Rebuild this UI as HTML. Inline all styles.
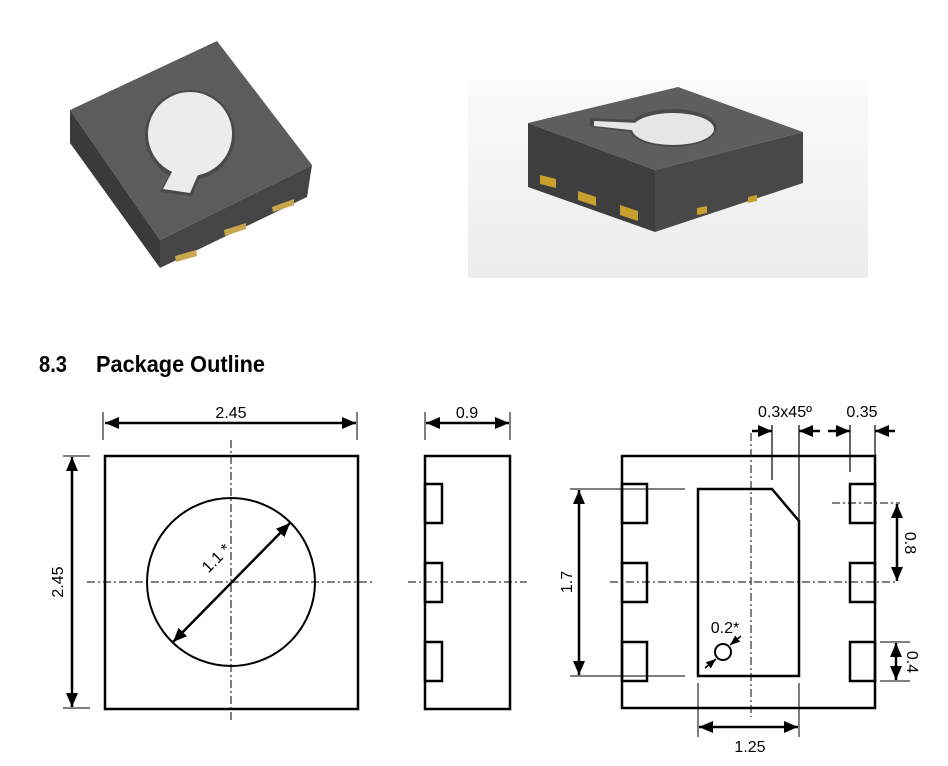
<!DOCTYPE html>
<html><head><meta charset="utf-8"><style>
html,body{margin:0;padding:0;background:#fff;}
svg{display:block;}
text{font-family:"Liberation Sans",sans-serif;}
</style></head><body>
<svg width="948" height="766" viewBox="0 0 948 766" xmlns="http://www.w3.org/2000/svg">
<defs>
<marker id="a" viewBox="0 0 14 12" refX="14" refY="6" markerWidth="14" markerHeight="12" markerUnits="userSpaceOnUse" orient="auto-start-reverse"><path d="M0,0 L14,6 L0,12 z" fill="#000"/></marker>
<marker id="s" viewBox="0 0 10 8" refX="10" refY="4" markerWidth="10" markerHeight="8" markerUnits="userSpaceOnUse" orient="auto-start-reverse"><path d="M0,0 L10,4 L0,8 z" fill="#000"/></marker>
<linearGradient id="bg" x1="0" y1="0" x2="0" y2="1"><stop offset="0" stop-color="#fafafa"/><stop offset="1" stop-color="#ececec"/></linearGradient>
</defs>
<rect width="948" height="766" fill="#fff"/>

<!-- left chip photo -->
<polygon points="70,110 160,240 160,268 70,143" fill="#3a3a3a"/>
<polygon points="160,240 312,165 307,197 160,268" fill="#454545"/>
<polygon points="70,110 217,41 312,165 160,240" fill="#5c5c5c"/>
<circle cx="190" cy="135" r="45" fill="#4a4a4a"/>
<polygon points="172,170 202,172 192,196 160,192" fill="#4a4a4a"/>
<circle cx="190" cy="134" r="42" fill="#ececec"/>
<polygon points="174,168 200,170 190,193 163,189" fill="#ececec"/>
<polygon points="175,256 196,250 197,256 176,262" fill="#c9a64e"/>
<polygon points="224,230 246,223 246,229 225,236" fill="#c9a64e"/>
<polygon points="272,207 294,199 294,205 273,212" fill="#c9a64e"/>

<!-- right chip photo -->
<rect x="468" y="80" width="400" height="198" fill="url(#bg)"/>
<polygon points="528,123 655,170 655,232 528,187" fill="#3e3e3e"/>
<polygon points="655,170 803,132 803,183 655,232" fill="#484848"/>
<polygon points="528,123 678,87 803,132 655,170" fill="#5e5e5e"/>
<ellipse cx="673" cy="128" rx="44" ry="19" fill="#4a4a4a"/>
<polygon points="590,118 640,120 640,133 590,127" fill="#4a4a4a"/>
<ellipse cx="673" cy="129" rx="41" ry="16" fill="#e6e6e6"/>
<polygon points="594,121 640,123 640,131 594,126" fill="#e6e6e6"/>
<polygon points="540,175 556,179 556,188 540,184" fill="#c9a02e"/>
<polygon points="578,191 596,197 596,206 578,200" fill="#c9a02e"/>
<polygon points="620,205 638,211 638,221 620,215" fill="#c9a02e"/>
<polygon points="697,208 707,206 707,213 697,215" fill="#c9a02e"/>
<polygon points="748,197 757,195 757,201 748,203" fill="#c9a02e"/>

<!-- title -->
<text x="39" y="372" font-size="23" font-weight="bold" textLength="28" lengthAdjust="spacingAndGlyphs">8.3</text>
<text x="96" y="372" font-size="23" font-weight="bold" textLength="169" lengthAdjust="spacingAndGlyphs">Package Outline</text>

<g stroke="#000" fill="none">
<!-- view 1 -->
<rect x="105" y="456" width="253" height="253" stroke-width="2.5"/>
<circle cx="231" cy="582" r="84" stroke-width="2"/>
<line x1="231" y1="440" x2="231" y2="720" stroke-width="1" stroke-dasharray="8,3,2,3"/>
<line x1="87" y1="582" x2="372" y2="582" stroke-width="1" stroke-dasharray="8,3,2,3"/>
<line x1="103" y1="412" x2="103" y2="440" stroke-width="1"/>
<line x1="357" y1="412" x2="357" y2="440" stroke-width="1"/>
<line x1="105" y1="423" x2="356" y2="423" stroke-width="2.5" marker-start="url(#a)" marker-end="url(#a)"/>
<line x1="63" y1="456" x2="90" y2="456" stroke-width="1"/>
<line x1="63" y1="708" x2="90" y2="708" stroke-width="1"/>
<line x1="72" y1="457" x2="72" y2="707" stroke-width="2.5" marker-start="url(#a)" marker-end="url(#a)"/>
<line x1="173" y1="642" x2="290" y2="523" stroke-width="2.5" marker-start="url(#a)" marker-end="url(#a)"/>

<!-- view 2 -->
<rect x="425" y="456" width="85" height="253" stroke-width="2.5"/>
<rect x="425" y="484" width="17" height="39" stroke-width="2.5"/>
<rect x="425" y="563" width="17" height="39" stroke-width="2.5"/>
<rect x="425" y="642" width="17" height="39" stroke-width="2.5"/>
<line x1="408" y1="582" x2="527" y2="582" stroke-width="1" stroke-dasharray="8,3,2,3"/>
<line x1="425" y1="412" x2="425" y2="440" stroke-width="1"/>
<line x1="510" y1="412" x2="510" y2="440" stroke-width="1"/>
<line x1="426" y1="423" x2="509" y2="423" stroke-width="2.5" marker-start="url(#a)" marker-end="url(#a)"/>
<line x1="570" y1="489" x2="685" y2="489" stroke-width="1"/>
<line x1="570" y1="676" x2="685" y2="676" stroke-width="1"/>
<line x1="579" y1="490" x2="579" y2="675" stroke-width="2.5" marker-start="url(#a)" marker-end="url(#a)"/>

<!-- view 3 -->
<rect x="622" y="456" width="253" height="252" stroke-width="2.5"/>
<rect x="622" y="484" width="25" height="39" stroke-width="2.5"/>
<rect x="622" y="563" width="25" height="39" stroke-width="2.5"/>
<rect x="622" y="642" width="25" height="39" stroke-width="2.5"/>
<rect x="850" y="484" width="25" height="39" stroke-width="2.5"/>
<rect x="850" y="563" width="25" height="39" stroke-width="2.5"/>
<rect x="850" y="642" width="25" height="39" stroke-width="2.5"/>
<polygon points="698,489 772,489 799,521 799,676 698,676" stroke-width="2.5"/>
<line x1="751" y1="433" x2="751" y2="717" stroke-width="1" stroke-dasharray="8,3,2,3"/>
<line x1="610" y1="582" x2="898" y2="582" stroke-width="1" stroke-dasharray="8,3,2,3"/>
<line x1="832" y1="503" x2="900" y2="503" stroke-width="1" stroke-dasharray="8,3,2,3"/>
<line x1="772" y1="425" x2="772" y2="480" stroke-width="1.2"/>
<line x1="799" y1="425" x2="799" y2="521" stroke-width="1.2"/>
<line x1="752" y1="431" x2="772" y2="431" stroke-width="2.5" marker-end="url(#a)"/>
<line x1="820" y1="431" x2="799" y2="431" stroke-width="2.5" marker-end="url(#a)"/>
<line x1="850" y1="425" x2="850" y2="472" stroke-width="1.2"/>
<line x1="875" y1="425" x2="875" y2="475" stroke-width="1.2"/>
<line x1="828" y1="431" x2="850" y2="431" stroke-width="2.5" marker-end="url(#a)"/>
<line x1="895" y1="431" x2="875" y2="431" stroke-width="2.5" marker-end="url(#a)"/>
<line x1="897" y1="504" x2="897" y2="581" stroke-width="2.5" marker-start="url(#a)" marker-end="url(#a)"/>
<line x1="880" y1="642" x2="910" y2="642" stroke-width="1"/>
<line x1="880" y1="681" x2="910" y2="681" stroke-width="1"/>
<line x1="896" y1="643" x2="896" y2="680" stroke-width="2.5" marker-start="url(#a)" marker-end="url(#a)"/>
<line x1="698" y1="683" x2="698" y2="737" stroke-width="1"/>
<line x1="799" y1="683" x2="799" y2="737" stroke-width="1"/>
<line x1="699" y1="727" x2="798" y2="727" stroke-width="2.5" marker-start="url(#a)" marker-end="url(#a)"/>
<circle cx="723" cy="652" r="8" stroke-width="2"/>
<line x1="705" y1="668" x2="716" y2="659" stroke-width="1.5" marker-end="url(#s)"/>
<line x1="741" y1="636" x2="730" y2="645" stroke-width="1.5" marker-end="url(#s)"/>
</g>

<g font-size="16" fill="#000" text-anchor="middle">
<text x="231" y="418">2.45</text>
<text x="467" y="418">0.9</text>
<text transform="translate(63,582) rotate(-90)">2.45</text>
<text transform="translate(220,562) rotate(-45)">1.1 *</text>
<text transform="translate(572,582) rotate(-90)">1.7</text>
<text x="785" y="417">0.3x45º</text>
<text x="862" y="417">0.35</text>
<text transform="translate(905,543) rotate(90)">0.8</text>
<text transform="translate(907,662) rotate(90)">0.4</text>
<text x="750" y="752">1.25</text>
<text x="725" y="633">0.2*</text>
</g>
</svg>
</body></html>
